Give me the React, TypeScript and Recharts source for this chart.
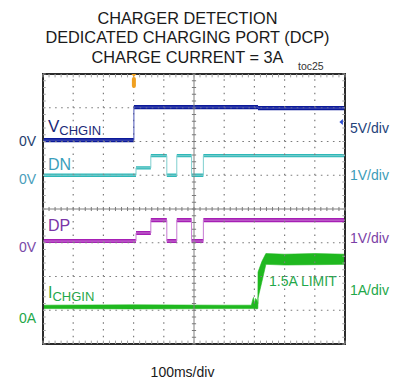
import React from 'react';
import {
  ComposedChart,
  Line,
  Area,
  XAxis,
  YAxis,
  ReferenceLine,
  ReferenceArea,
  ReferenceDot,
} from 'recharts';

// ---------- text ----------
const titleLines = ['CHARGER DETECTION', 'DEDICATED CHARGING PORT (DCP)', 'CHARGE CURRENT = 3A'];
const figureId = 'toc25';
const timeBaseLabel = '100ms/div';
const limitLabel = '1.5A LIMIT';

// ---------- scope grid (x in ms, y in divisions) ----------
const timeGridMs = [0, 100, 200, 300, 400, 500, 600, 700, 800, 900, 1000];
const divGrid = [0, 1, 2, 3, 4, 5, 6, 7, 8];

// ---------- traces ----------
// VCHGIN: 5V/div, zero at division 6
const vchginTimeMs = [0, 301, 712, 1000];
const vchginVolts = [0.2, 5.1, 4.95, 4.95];

// DN: 1V/div, zero at division 5
const dnTimeMs = [0, 308, 357, 410, 443, 492, 531, 1000];
const dnVolts = [0.0, 0.22, 0.58, 0.0, 0.58, 0.0, 0.58, 0.58];

// DP: 1V/div, zero at division 3
const dpTimeMs = [0, 308, 357, 410, 443, 492, 531, 1000];
const dpVolts = [0.05, 0.29, 0.67, 0.05, 0.67, 0.05, 0.67, 0.67];

// ICHGIN: 1A/div, zero at division 1 (noise envelope low / high)
const ichginTimeMs = [0, 300, 600, 690, 694, 697, 700, 704, 708, 711.5, 712, 725, 738, 800, 900, 1000];
const ichginLowA = [0.05, 0.04, 0.05, 0.05, 0.05, 0.05, 0.03, 0.05, 0.04, 0.05, 0.36, 0.85, 1.36, 1.34, 1.35, 1.36];
const ichginHighA = [0.15, 0.16, 0.15, 0.15, 0.3, 0.38, 0.2, 0.35, 0.3, 0.2, 1.13, 1.45, 1.68, 1.66, 1.68, 1.66];

// ---------- channel settings ----------
const CH = {
  vchgin: { zeroDiv: 6, perDiv: 5, half: 0.062, trace: '#0c1a9a', edge: '#4a55b8', text: '#1b2a78', unit: '#24427a', zero: '#26406e' },
  dn: { zeroDiv: 5, perDiv: 1, half: 0.05, trace: '#2fb8b8', edge: '#7fcfcf', text: '#3a9ebb', unit: '#3d9cb8', zero: '#4a9ebb' },
  dp: { zeroDiv: 3, perDiv: 1, half: 0.06, trace: '#a61fb5', edge: '#c77ad2', text: '#7a35a8', unit: '#7b3fa6', zero: '#7a4aa8' },
  ichgin: { zeroDiv: 1, perDiv: 1, trace: '#1fb81f', text: '#1fa84a', unit: '#1fa84a', zero: '#1fa84a' },
};

const zip = (ts: number[], vs: number[]) => ts.map((t, i) => ({ t, v: vs[i] }));
const vchginData = zip(vchginTimeMs, vchginVolts);
const dnData = zip(dnTimeMs, dnVolts);
const dpData = zip(dpTimeMs, dpVolts);
const ichginData = ichginTimeMs.map((t, i) => ({ t, lo: ichginLowA[i], hi: ichginHighA[i] }));

const toDiv = (ch: { zeroDiv: number; perDiv: number }, v: number) => v / ch.perDiv + ch.zeroDiv;

const FONT = '"Liberation Sans", Arial, Helvetica, sans-serif';

function stepTrace(key: string, ch: any, data: any[]) {
  return [
    <Area
      key={key + '-band'}
      data={data}
      type="stepAfter"
      dataKey={(d: any) => [toDiv(ch, d.v) - ch.half, toDiv(ch, d.v) + ch.half]}
      stroke="none"
      fill={ch.trace}
      fillOpacity={1}
      isAnimationActive={false}
      activeDot={false}
    />,
    <Line
      key={key + '-edge'}
      data={data}
      type="stepAfter"
      dataKey={(d: any) => toDiv(ch, d.v)}
      stroke={ch.edge}
      strokeWidth={1}
      dot={false}
      activeDot={false}
      isAnimationActive={false}
    />,
  ];
}

function TriggerMarker(props: any) {
  const { cx, cy } = props;
  if (cx == null || cy == null) return null;
  return (
    <g>
      <path d={`M${cx - 2.5},${cy} L${cx + 2.5},${cy} L${cx},${cy + 3} Z`} fill="#f0a020" />
      <rect x={cx - 2} y={cy + 3} width={4} height={11} rx={2} fill="#f0a020" />
    </g>
  );
}

function LevelMarker(props: any) {
  const { cx, cy } = props;
  if (cx == null || cy == null) return null;
  return <path d={`M${cx - 2},${cy} L${cx + 1.5},${cy - 3} L${cx + 1.5},${cy + 3} Z`} fill="#2a4ad0" />;
}

const minorX: number[] = [];
for (let t = 0; t <= 1000; t += 20) minorX.push(t);
const minorY: number[] = [];
for (let k = 0; k <= 40; k++) minorY.push(k * 0.2);

export default function App() {
  const gridColor = '#7c7c7c';
  const tickColor = '#7a7a7a';
  return (
    <div style={{ position: 'absolute', left: 0, top: 0, width: 403, height: 383, background: '#fff' }}>
      <ComposedChart width={403} height={383} margin={{ top: 74, right: 58, bottom: 39, left: 43 }}>
        <XAxis type="number" dataKey="t" domain={[0, 1000]} ticks={timeGridMs} hide allowDataOverflow />
        <YAxis type="number" domain={[0, 8]} ticks={divGrid} hide allowDataOverflow />

        {timeGridMs.slice(1, -1).filter((t) => t !== 500).map((t) => (
          <ReferenceLine key={'gx' + t} x={t} stroke={gridColor} strokeDasharray="1.6 5.15" strokeWidth={1.2} />
        ))}
        {divGrid.slice(1, -1).filter((d) => d !== 4).map((d) => (
          <ReferenceLine key={'gy' + d} y={d} stroke={gridColor} strokeDasharray="1.6 4.44" strokeWidth={1.2} />
        ))}
        <ReferenceLine x={500} stroke="#808080" strokeWidth={1} />
        <ReferenceLine y={4} stroke="#808080" strokeWidth={1} />
        {minorX.map((t) => (
          <ReferenceLine key={'mx' + t} segment={[{ x: t, y: 3.94 }, { x: t, y: 4.06 }]} stroke={tickColor} strokeWidth={1} />
        ))}
        {minorY.map((d) => (
          <ReferenceLine key={'my' + d} segment={[{ x: 493, y: d }, { x: 507, y: d }]} stroke={tickColor} strokeWidth={1} />
        ))}
        {minorX.map((t) => (
          <ReferenceLine key={'mt' + t} segment={[{ x: t, y: 7.9 }, { x: t, y: 8 }]} stroke="#a0a0a0" strokeWidth={1} />
        ))}
        {minorX.map((t) => (
          <ReferenceLine key={'mb' + t} segment={[{ x: t, y: 0 }, { x: t, y: 0.1 }]} stroke="#a0a0a0" strokeWidth={1} />
        ))}
        {minorY.map((d) => (
          <ReferenceLine key={'ml' + d} segment={[{ x: 0, y: d }, { x: 9, y: d }]} stroke="#a0a0a0" strokeWidth={1} />
        ))}
        {minorY.map((d) => (
          <ReferenceLine key={'mr' + d} segment={[{ x: 991, y: d }, { x: 1000, y: d }]} stroke="#a0a0a0" strokeWidth={1} />
        ))}

        {stepTrace('vchgin', CH.vchgin, vchginData)}
        {stepTrace('dn', CH.dn, dnData)}
        {stepTrace('dp', CH.dp, dpData)}
        <Area
          data={ichginData}
          type="linear"
          dataKey={(d: any) => [toDiv(CH.ichgin, d.lo), toDiv(CH.ichgin, d.hi)]}
          stroke={CH.ichgin.trace}
          strokeWidth={0.6}
          fill={CH.ichgin.trace}
          fillOpacity={1}
          isAnimationActive={false}
          activeDot={false}
        />

        <ReferenceArea x1={0} x2={1000} y1={0} y2={8} fill="none" stroke="#2b2b2b" strokeWidth={2} />
        <ReferenceDot x={vchginTimeMs[1]} y={8} r={0} shape={TriggerMarker} />
        <ReferenceDot x={988} y={6.58} r={0} shape={LevelMarker} />

        <g fontFamily={FONT}>
          {titleLines.map((s, i) => (
            <text key={s} x={187.5} y={24 + i * 19.3} textAnchor="middle" fontSize={16.3} fill="#1a1a1a">
              {s}
            </text>
          ))}
          <text x={298} y={70} fontSize={10.5} fill="#333">{figureId}</text>

          <text x={48} y={132} fontSize={17} fill={CH.vchgin.text}>
            V<tspan fontSize={13} dy={3}>CHGIN</tspan>
          </text>
          <text x={48} y={170} fontSize={16} fill={CH.dn.text}>DN</text>
          <text x={48} y={231} fontSize={16} fill={CH.dp.text}>DP</text>
          <text x={48} y={298} fontSize={16} fill={CH.ichgin.text}>
            I<tspan fontSize={13} dy={3}>CHGIN</tspan>
          </text>
          <text x={269} y={286} fontSize={14} fill={CH.ichgin.text}>{limitLabel}</text>

          <text x={36} y={146} textAnchor="end" fontSize={14} fill={CH.vchgin.zero}>0V</text>
          <text x={36} y={184} textAnchor="end" fontSize={14} fill={CH.dn.zero}>0V</text>
          <text x={36} y={252} textAnchor="end" fontSize={14} fill={CH.dp.zero}>0V</text>
          <text x={36} y={323} textAnchor="end" fontSize={14} fill={CH.ichgin.zero}>0A</text>

          <text x={350} y={133} fontSize={14} fill={CH.vchgin.unit}>5V/div</text>
          <text x={350} y={180} fontSize={14} fill={CH.dn.unit}>1V/div</text>
          <text x={350} y={243} fontSize={14} fill={CH.dp.unit}>1V/div</text>
          <text x={350} y={295} fontSize={14} fill={CH.ichgin.unit}>1A/div</text>

          <text x={182.5} y={377} textAnchor="middle" fontSize={14} fill="#1a1a1a">{timeBaseLabel}</text>
        </g>
      </ComposedChart>
    </div>
  );
}
